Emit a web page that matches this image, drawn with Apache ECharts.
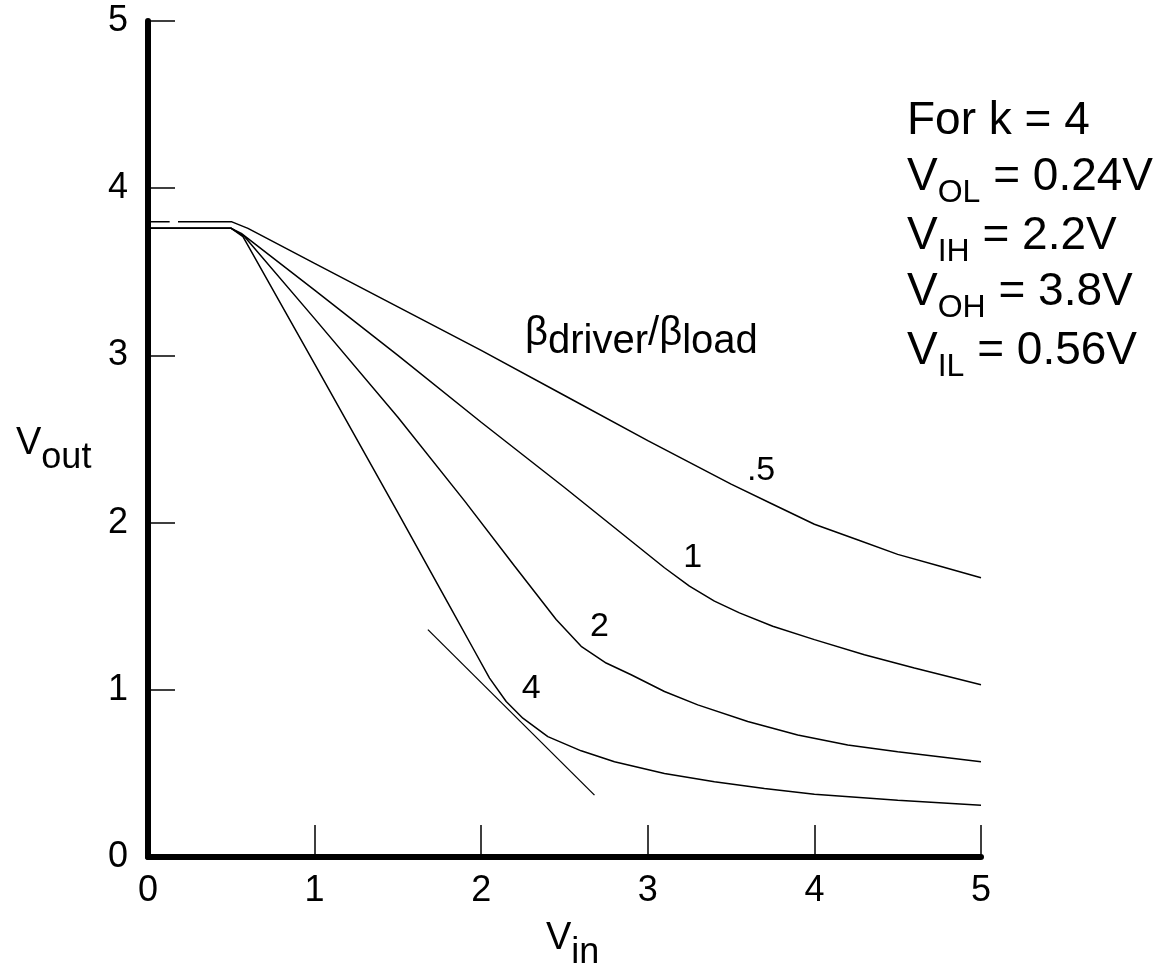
<!DOCTYPE html>
<html>
<head>
<meta charset="utf-8">
<title>Inverter transfer curves</title>
<script src="https://cdn.jsdelivr.net/npm/echarts@6/dist/echarts.min.js"></script>
<style>
  html, body { margin: 0; padding: 0; background: #fff; }
  #chart { width: 1165px; height: 966px; }
</style>
</head>
<body>
<div id="chart"></div>
<script>
// Vout vs Vin for several beta_driver / beta_load ratios (volts)
const ratioNames = ['.5', '1', '2', '4']

const vinHalf = [0, 0.13, 0.155, 0.18, 0.5, 0.6, 1.0, 1.5, 2.0, 2.5, 3.0, 3.5, 3.75, 4.0, 4.25, 4.5, 4.75, 5.0]
const voutHalf = [3.80, 3.80, '-', 3.80, 3.80, 3.76, 3.55, 3.29, 3.03, 2.76, 2.49, 2.23, 2.11, 1.99, 1.90, 1.81, 1.74, 1.67]

const vinOne = [0, 0.5, 0.56, 1.0, 1.5, 2.0, 2.5, 2.9, 3.1, 3.25, 3.4, 3.55, 3.75, 4.0, 4.3, 4.6, 5.0]
const voutOne = [3.76, 3.76, 3.73, 3.39, 3.0, 2.60, 2.21, 1.89, 1.73, 1.62, 1.53, 1.46, 1.38, 1.30, 1.21, 1.13, 1.03]

const vinTwo = [0, 0.5, 0.58, 1.0, 1.5, 1.9, 2.2, 2.45, 2.6, 2.75, 2.9, 3.1, 3.3, 3.6, 3.9, 4.2, 4.5, 4.75, 5.0]
const voutTwo = [3.76, 3.76, 3.71, 3.22, 2.63, 2.13, 1.74, 1.42, 1.26, 1.16, 1.09, 0.99, 0.91, 0.81, 0.73, 0.67, 0.63, 0.60, 0.57]

const vinFour = [0, 0.5, 0.57, 1.0, 1.5, 1.8, 1.95, 2.05, 2.15, 2.25, 2.4, 2.6, 2.8, 3.1, 3.4, 3.7, 4.0, 4.5, 5.0]
const voutFour = [3.76, 3.76, 3.71, 2.95, 2.06, 1.52, 1.25, 1.07, 0.93, 0.83, 0.72, 0.635, 0.57, 0.50, 0.45, 0.41, 0.375, 0.34, 0.31]

// unity-gain tangent on the k = 4 curve (V_IH)
const vinTangent = [1.68, 2.68]
const voutTangent = [1.36, 0.37]

// where the ratio numbers sit next to each curve
const labelVin = [3.68, 3.27, 2.71, 2.30]
const labelVout = [2.31, 1.79, 1.38, 1.01]

const axisTicks = [0, 1, 2, 3, 4, 5]

const FONT = '"Liberation Sans", Arial, Helvetica, sans-serif'

const pairs = (xs, ys) => xs.map((x, i) => [x, ys[i]])

const curves = [
  pairs(vinHalf, voutHalf),
  pairs(vinOne, voutOne),
  pairs(vinTwo, voutTwo),
  pairs(vinFour, voutFour)
]

const chart = echarts.init(document.getElementById('chart'), null, { renderer: 'canvas' })

const lineSeries = curves.map((data, i) => ({
  name: ratioNames[i],
  type: 'line',
  data: data,
  showSymbol: false,
  symbol: 'none',
  connectNulls: false,
  smooth: false,
  lineStyle: { color: '#000', width: 1.5 },
  markPoint: {
    symbol: 'circle',
    symbolSize: 1,
    itemStyle: { color: 'rgba(0,0,0,0)' },
    label: {
      show: true,
      position: 'inside',
      formatter: (p) => p.name,
      color: '#000',
      fontSize: 34,
      fontFamily: FONT
    },
    data: [{ name: ratioNames[i], coord: [labelVin[i], labelVout[i]] }]
  }
}))

lineSeries.push({
  name: 'tangent',
  type: 'line',
  data: pairs(vinTangent, voutTangent),
  showSymbol: false,
  symbol: 'none',
  lineStyle: { color: '#000', width: 1.3 }
})

// rich text helpers for subscripted labels
const mainSub = (mainSize, subSize, drop) => ({
  m: { fontSize: mainSize, lineHeight: mainSize, fontFamily: FONT, fill: '#000', verticalAlign: 'top' },
  s: { fontSize: subSize, lineHeight: subSize, fontFamily: FONT, fill: '#000', verticalAlign: 'top', padding: [drop, 0, 0, 0] }
})

const noteRich = mainSub(46, 32, 23)
const noteLines = ['{m|For k = 4}', '{m|V}{s|OL}{m| = 0.24V}', '{m|V}{s|IH}{m| = 2.2V}', '{m|V}{s|OH}{m| = 3.8V}', '{m|V}{s|IL}{m| = 0.56V}']
const noteTops = [98, 154, 213, 269, 328]

const graphics = noteLines.map((t, i) => ({
  type: 'text',
  x: 907,
  y: noteTops[i],
  style: { text: t, rich: noteRich, fill: '#000', align: 'left', verticalAlign: 'top' }
}))

graphics.push({
  type: 'text',
  x: 16,
  y: 425,
  style: { text: '{m|V}{s|out}', rich: mainSub(38, 36, 15), fill: '#000', align: 'left', verticalAlign: 'top' }
})
graphics.push({
  type: 'text',
  x: 546,
  y: 920,
  style: { text: '{m|V}{s|in}', rich: mainSub(38, 36, 15), fill: '#000', align: 'left', verticalAlign: 'top' }
})
graphics.push({
  type: 'text',
  x: 525,
  y: 314,
  style: {
    text: '{b|β}{d|driver}{b|/β}{d|load}',
    fill: '#000',
    align: 'left',
    verticalAlign: 'top',
    rich: {
      b: { fontSize: 40, lineHeight: 40, fontFamily: FONT, fill: '#000', verticalAlign: 'top' },
      d: { fontSize: 40, lineHeight: 40, fontFamily: FONT, fill: '#000', verticalAlign: 'top', padding: [8, 0, 0, 0] }
    }
  }
})

const axisCommon = {
  type: 'value',
  min: axisTicks[0],
  max: axisTicks[axisTicks.length - 1],
  interval: 1,
  splitLine: { show: false },
  axisLine: { show: true, onZero: false, lineStyle: { color: '#000', width: 6 } },
  axisLabel: { color: '#000', fontSize: 36, fontFamily: FONT }
}

chart.setOption({
  animation: false,
  backgroundColor: '#fff',
  grid: { left: 148, right: 184, top: 21, bottom: 109, containLabel: false, outerBoundsMode: 'none' },
  xAxis: Object.assign({}, axisCommon, {
    axisTick: { show: true, inside: true, length: 32, lineStyle: { color: '#000', width: 1.5 } },
    axisLabel: Object.assign({}, axisCommon.axisLabel, { margin: 16 })
  }),
  yAxis: Object.assign({}, axisCommon, {
    axisTick: { show: true, inside: true, length: 27, lineStyle: { color: '#000', width: 1.5 } },
    axisLabel: Object.assign({}, axisCommon.axisLabel, { margin: 20 })
  }),
  series: lineSeries,
  graphic: graphics
})

window.addEventListener('resize', () => chart.resize())
</script>
</body>
</html>
